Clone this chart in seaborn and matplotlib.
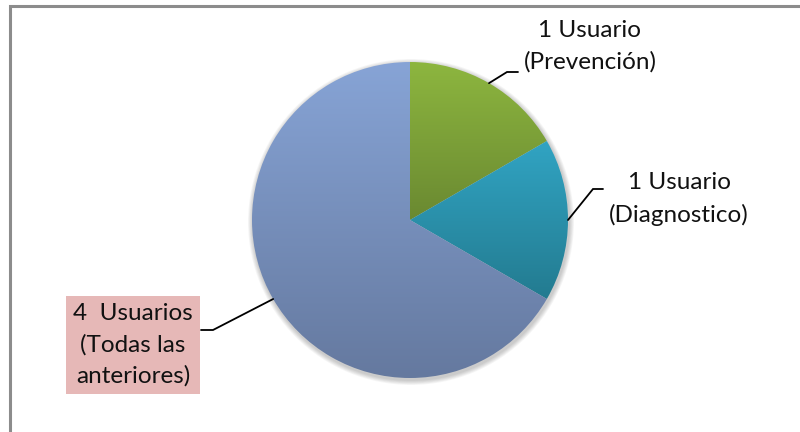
import numpy as np
import seaborn as sns
import matplotlib.pyplot as plt
from matplotlib.patches import Circle
from matplotlib.colors import LinearSegmentedColormap

# data
labels = ["1 Usuario\n(Prevención)", "1 Usuario\n(Diagnostico)", "4  Usuarios\n(Todas las\nanteriores)"]
values = [1, 1, 4]
top_colors = ["#8db63f", "#31a4c3", "#87a4d6"]
bottom_colors = ["#6a8931", "#237b90", "#65799f"]

sns.set_theme(style="white")
plt.rcParams['font.family'] = ['Lato', 'DejaVu Sans']

W, H = 800, 432
fig = plt.figure(figsize=(8, 4.32), dpi=100)
ax = fig.add_axes([0, 0, 1, 1])

cx, cy, R = 410, H - 220, 158

# soft shadow behind the pie
for k in range(6):
    ax.add_patch(Circle((cx + 1, cy - 2), R + 1 + k * 0.8, color='black',
                        alpha=0.035, lw=0, zorder=0))

wedges, _ = ax.pie(values, startangle=90, counterclock=False, center=(cx, cy),
                   radius=R, colors=top_colors, frame=True,
                   wedgeprops=dict(linewidth=0))
ax.set_xlim(0, W)
ax.set_ylim(0, H)
ax.set_aspect('equal')
ax.axis('off')

# vertical gradient fill in each slice
for w, c1, c2 in zip(wedges, top_colors, bottom_colors):
    ext = w.get_path().get_extents()
    cmap = LinearSegmentedColormap.from_list('g', [c2, c1])
    grad = np.linspace(0, 1, 256).reshape(-1, 1)
    im = ax.imshow(grad, cmap=cmap, origin='lower', aspect='auto',
                   extent=[ext.x0, ext.x1, ext.y0, ext.y1], zorder=2)
    im.set_clip_path(w)
    w.set_facecolor('none')

# labels with leader lines: (elbow x, elbow y, end x, text x, text y)
layout = [
    (507, 72, 518, 590, 46),
    (593, 189, 603, 679, 199),
    (213, 330, 201, 133, 345),
]
for w, lab, (ex, ey, hx, tx, ty) in zip(wedges, labels, layout):
    mid = np.deg2rad((w.theta1 + w.theta2) / 2)
    ax_x = cx + R * np.cos(mid)
    ax_y = cy + R * np.sin(mid)
    ax.plot([ax_x, ex, hx], [ax_y, H - ey, H - ey], color='black', lw=1.3,
            zorder=3, solid_joinstyle='miter')
    kw = {}
    if lab.startswith("4"):
        kw['bbox'] = dict(boxstyle='square,pad=0.3', fc='#e6b8b7', ec='none')
    ax.text(tx, H - ty, lab, ha='center', va='center', fontsize=17.5,
            color='#111111', linespacing=1.57, zorder=4, **kw)

# chart border (only top and left visible in the crop)
ax.plot([9.5, 9.5, W + 5], [-5, H - 5.5, H - 5.5], color='#8c8c8c', lw=2.2,
        solid_joinstyle='miter', zorder=5)

fig.savefig('out.png', dpi=100)
